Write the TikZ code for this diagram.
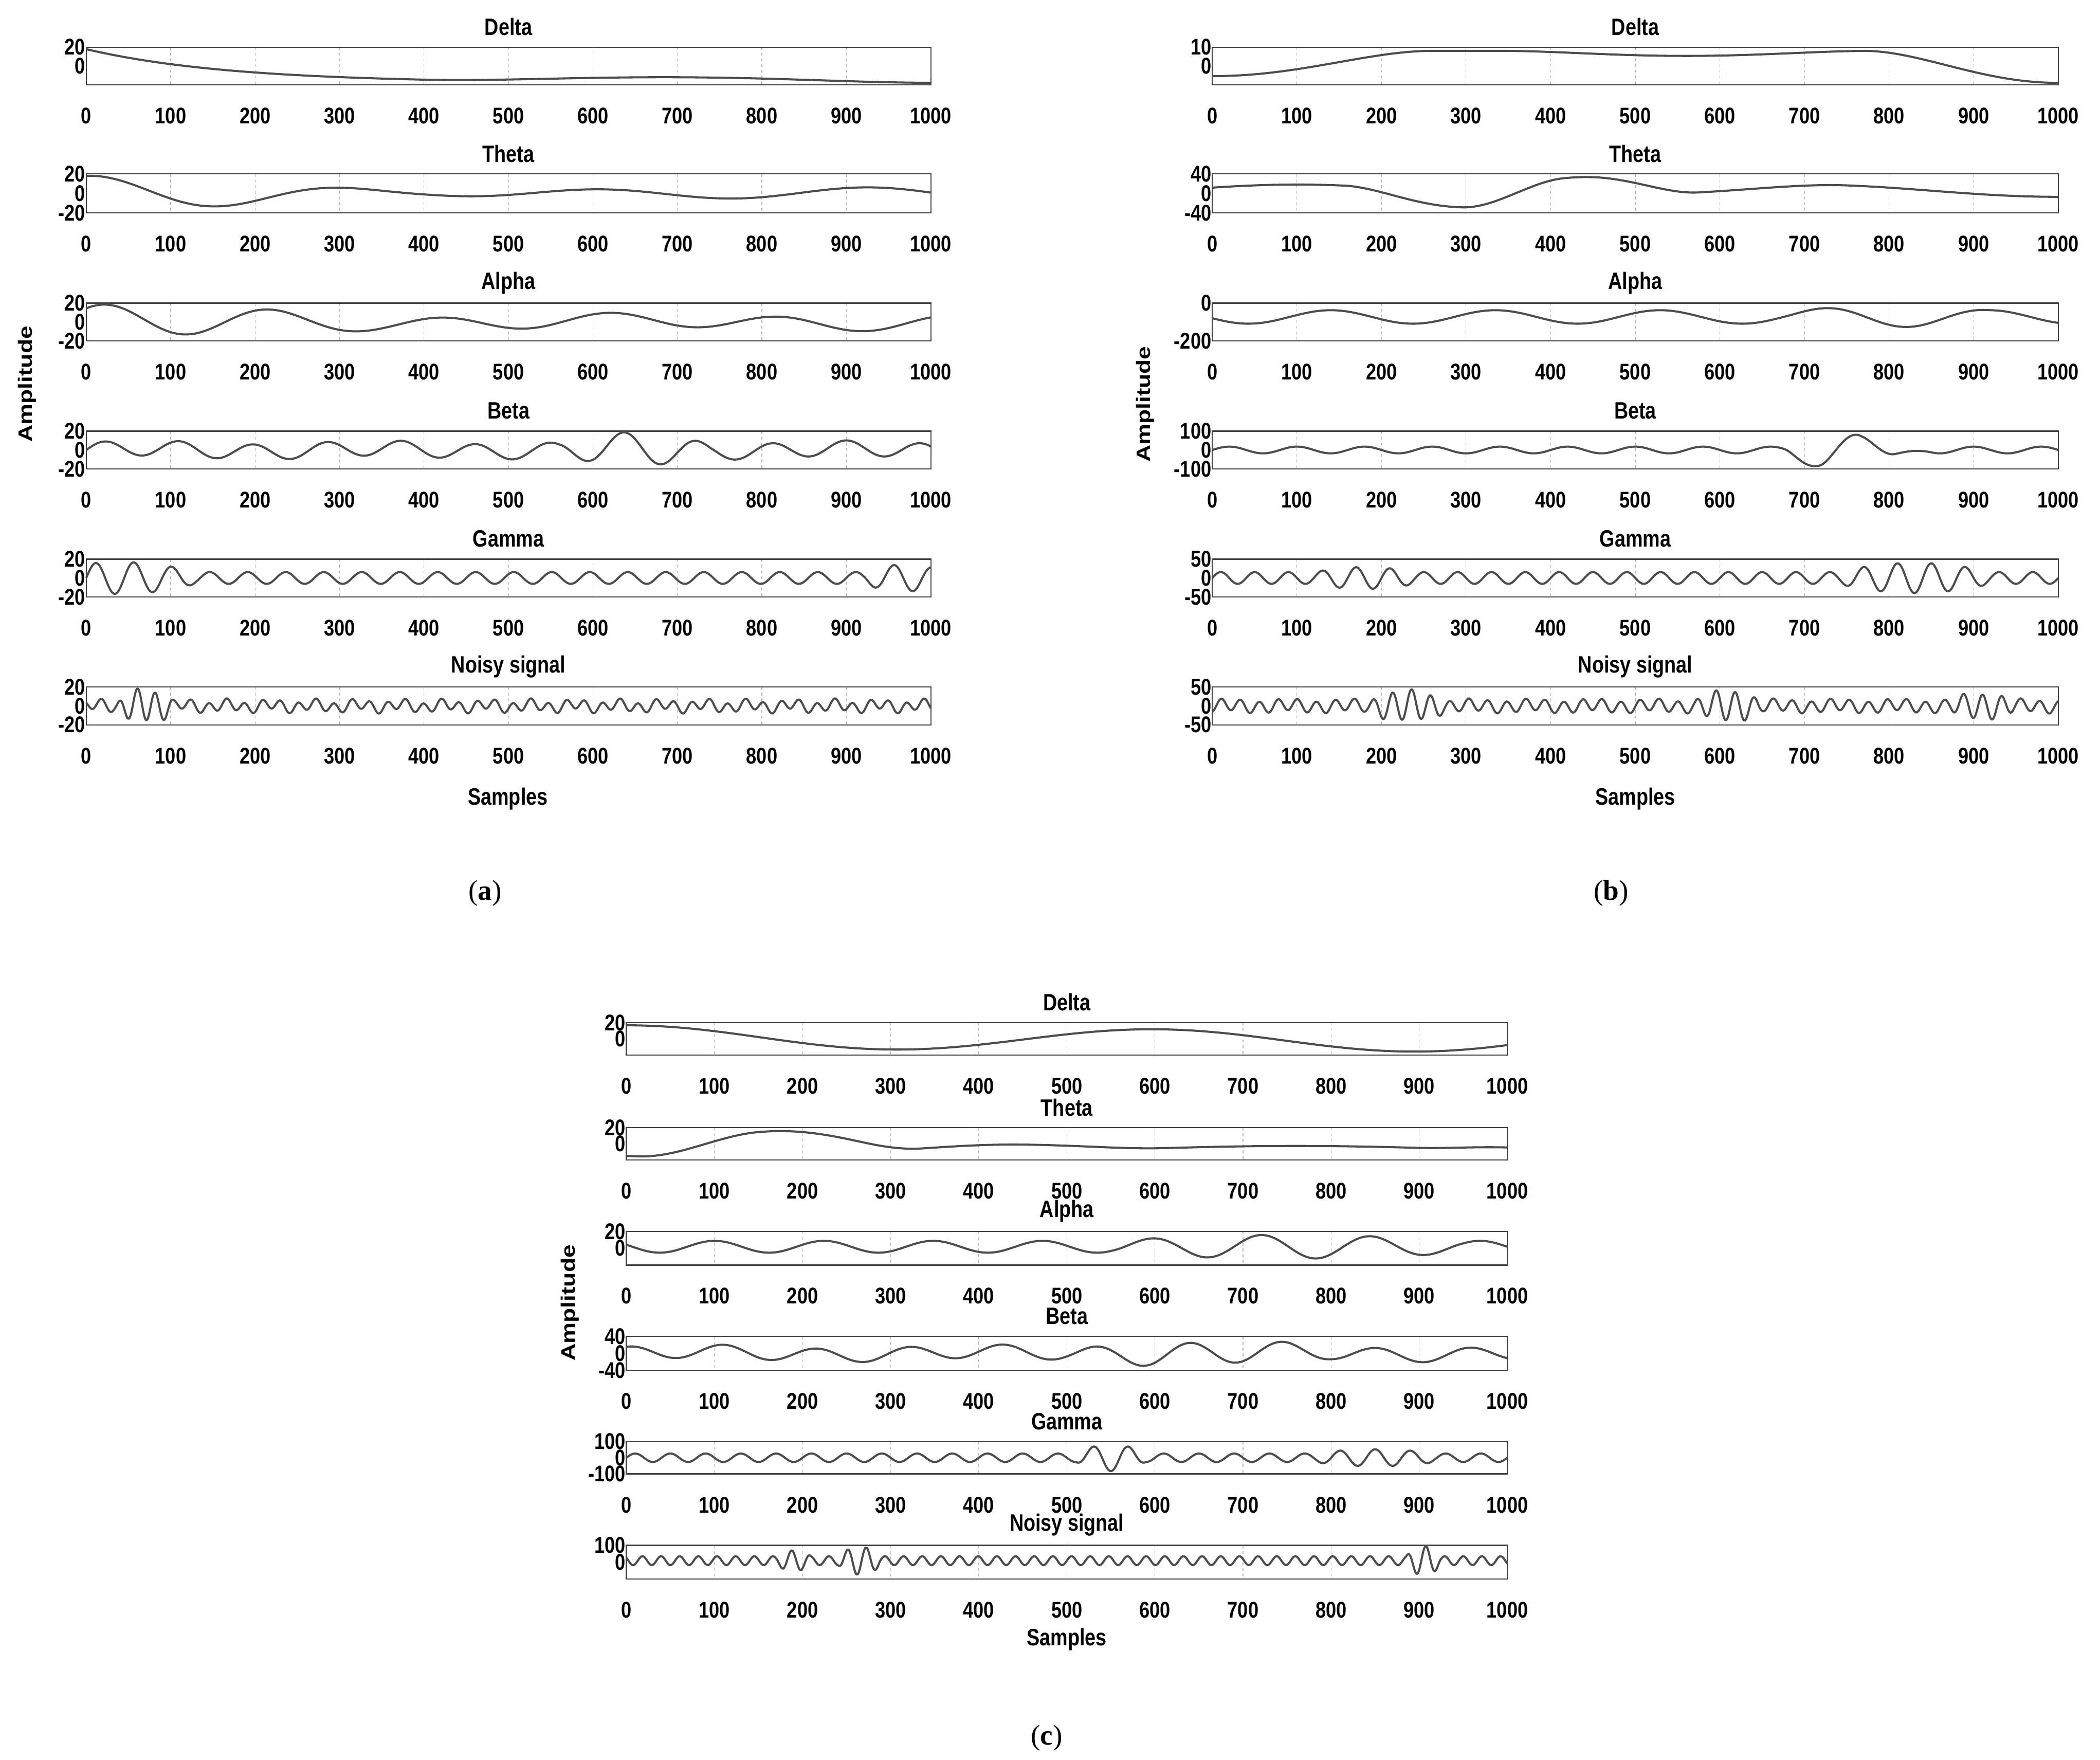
\documentclass[tikz,border=0pt]{standalone}
\usepackage{fontspec}
\setmainfont{Liberation Serif}
\newfontfamily\plotfont{Liberation Sans}
\tikzset{
 gridl/.style={draw=gray!60,dashed,line width=0.6pt},
 axisl/.style={draw=black!75,line width=1.2pt},
 sig/.style={draw=black!70,line width=2.2pt,line join=round},
 tick/.style={font=\plotfont\bfseries\fontsize{24}{24}\selectfont,xscale=0.82,transform shape,inner sep=0pt},
 ttl/.style={font=\plotfont\bfseries\fontsize{25}{25}\selectfont,xscale=0.82,transform shape,inner sep=0pt},
 ylab/.style={font=\plotfont\bfseries\fontsize{24}{24}\selectfont,xscale=0.82,transform shape,inner sep=1pt},
 captxt/.style={font=\fontsize{30}{30}\selectfont}
}
\newcommand\pbox[8]{%
 \foreach \k in {1,...,9}{\draw[gridl] ({#1+(#2-#1)*\k/10},#3) -- ({#1+(#2-#1)*\k/10},#4);}
 \draw[axisl] (#1,#3) rectangle (#2,#4);
 \foreach \k in {0,...,10}{\node[tick] at ({#1+(#2-#1)*\k/10},{#4+23}) {\the\numexpr\k*100\relax};}
 \node[ttl] at ({(#1+#2)/2},{#3-15}) {#5};
 \node[ylab,anchor=east] at (#1,#3) {#6};
 \node[ylab,anchor=east] at (#1,{(#3+#4)/2}) {#7};
 \node[ylab,anchor=east] at (#1,#4) {#8};
}
\newcommand\sig[6]{%
 \draw[sig] plot[domain=0:1000,samples=#5,smooth] ({#1+(#2-#1)*(\x/1000)},{(#3+#4)/2-((#4-#3)/2-1.5)*(#6)});
}
\newcommand\bump[3]{max(0,1-((#1-(#2))/#3)^2)}
\newcommand\sbump[3]{(max(0,1-((#1-(#2))/#3)^2))^2}
\begin{document}
\begin{tikzpicture}[x=0.05cm,y=-0.05cm]
\useasboundingbox (0,0) rectangle (1559,1306);
% ---------- panel (a)
\def\xa{64}\def\xb{691}
\pbox{\xa}{\xb}{35}{63}{Delta}{20}{0}{}
\sig{\xa}{\xb}{35}{63}{200}{2*exp(-\x/170)-1+0.3*\sbump{\x}{700}{300}}
\pbox{\xa}{\xb}{129}{158}{Theta}{20}{0}{-20}
\sig{\xa}{\xb}{129}{158}{300}{cos(1.16*\x)*(0.25+0.75*\sbump{\x}{0}{420})+0.1*sin(0.9*\x)}
\pbox{\xa}{\xb}{225}{253}{Alpha}{20}{0}{-20}
\sig{\xa}{\xb}{225}{253}{300}{cos(1.8*(\x-20))*(0.4+0.6*\sbump{\x}{0}{380})+0.15*sin(0.7*\x)}
\pbox{\xa}{\xb}{320}{348}{Beta}{20}{0}{-20}
\sig{\xa}{\xb}{320}{348}{400}{0.45*sin(4.1*\x)*(1+1.1*\bump{\x}{650}{90})+0.12*sin(1.3*\x)}
\pbox{\xa}{\xb}{415}{443}{Gamma}{20}{0}{-20}
\sig{\xa}{\xb}{415}{443}{600}{sin(8*\x)*(0.35+0.6*\bump{\x}{40}{90}+0.45*\bump{\x}{970}{50})}
\pbox{\xa}{\xb}{510}{538}{Noisy signal}{20}{0}{-20}
\sig{\xa}{\xb}{510}{538}{900}{sin(17*(\x-500))*(0.3+0.65*\bump{\x}{70}{35})+0.15*sin(7*\x)}
\node[ttl] at (377,593) {Samples};
\node[ttl,rotate=90] at (20,285) {Amplitude};
\node[captxt] at (360,663) {(\textbf{a})};
% ---------- panel (b)
\def\xa{900}\def\xb{1528}
\pbox{\xa}{\xb}{35}{63}{Delta}{10}{0}{}
\sig{\xa}{\xb}{35}{63}{200}{0.9-1.5*\sbump{\x}{0}{260}-0.3*\sbump{\x}{560}{220}-1.9*\sbump{\x}{1000}{230}}
\pbox{\xa}{\xb}{129}{158}{Theta}{40}{0}{-40}
\sig{\xa}{\xb}{129}{158}{300}{0.35*cos(0.6*(\x-100))-0.8*\sbump{\x}{285}{130}+1.1*\sbump{\x}{435}{140}-0.2*\sbump{\x}{600}{150}+0.15}
\pbox{\xa}{\xb}{225}{253}{Alpha}{0}{}{-200}
\sig{\xa}{\xb}{225}{253}{300}{0.3+0.5*cos(1.85*(\x-140))*(0.8+0.4*\bump{\x}{800}{120})}
\pbox{\xa}{\xb}{320}{348}{Beta}{100}{0}{-100}
\sig{\xa}{\xb}{320}{348}{400}{0.2*sin(4.5*\x)-0.9*\sbump{\x}{720}{45}+0.95*\sbump{\x}{762}{45}-0.35*\sbump{\x}{810}{40}}
\pbox{\xa}{\xb}{415}{443}{Gamma}{50}{0}{-50}
\sig{\xa}{\xb}{415}{443}{600}{sin(9*\x)*(0.35+0.55*\bump{\x}{830}{90}+0.3*\bump{\x}{180}{60})}
\pbox{\xa}{\xb}{510}{538}{Noisy signal}{50}{0}{-50}
\sig{\xa}{\xb}{510}{538}{900}{sin(16*(\x-500))*(0.35+0.55*\bump{\x}{230}{45}+0.55*\bump{\x}{610}{40}+0.4*\bump{\x}{910}{40})+0.1*sin(5*\x)}
\node[ttl] at (1214,593) {Samples};
\node[ttl,rotate=90] at (850,300) {Amplitude};
\node[captxt] at (1196,663) {(\textbf{b})};
% ---------- panel (c)
\def\xa{465}\def\xb{1119}
\pbox{\xa}{\xb}{759}{783}{Delta}{20}{0}{}
\sig{\xa}{\xb}{759}{783}{200}{cos(0.6*\x)*0.8+0.15*cos(0.25*\x)}
\pbox{\xa}{\xb}{837}{861}{Theta}{20}{0}{}
\sig{\xa}{\xb}{837}{861}{300}{-0.5-0.4*\sbump{\x}{30}{120}+1.4*\sbump{\x}{175}{160}+0.45*\sbump{\x}{440}{170}+0.35*\sbump{\x}{760}{300}+0.2*\sbump{\x}{1000}{100}}
\pbox{\xa}{\xb}{914}{939}{Alpha}{20}{0}{}
\sig{\xa}{\xb}{914}{939}{300}{0.1+0.8*cos(2.9*(\x-100))*(0.5+0.5*\bump{\x}{750}{200})}
\pbox{\xa}{\xb}{992}{1017}{Beta}{40}{0}{-40}
\sig{\xa}{\xb}{992}{1017}{400}{0.75*cos(3.4*(\x-110))*(0.6+0.4*\bump{\x}{650}{150})+0.15*sin(1.1*\x)}
\pbox{\xa}{\xb}{1070}{1094}{Gamma}{100}{0}{-100}
\sig{\xa}{\xb}{1070}{1094}{600}{sin(9*\x)*(0.3+0.65*\bump{\x}{550}{40}+0.3*\bump{\x}{850}{70})}
\pbox{\xa}{\xb}{1147}{1172}{Noisy signal}{100}{0}{}
\sig{\xa}{\xb}{1147}{1172}{900}{0.1+sin(17*(\x-500))*(0.3+0.65*\bump{\x}{265}{25}+0.7*\bump{\x}{905}{20}+0.4*\bump{\x}{190}{20})}
\node[ttl] at (792,1217) {Samples};
\node[ttl,rotate=90] at (423,967) {Amplitude};
\node[captxt] at (777,1290) {(\textbf{c})};
\end{tikzpicture}
\end{document}
